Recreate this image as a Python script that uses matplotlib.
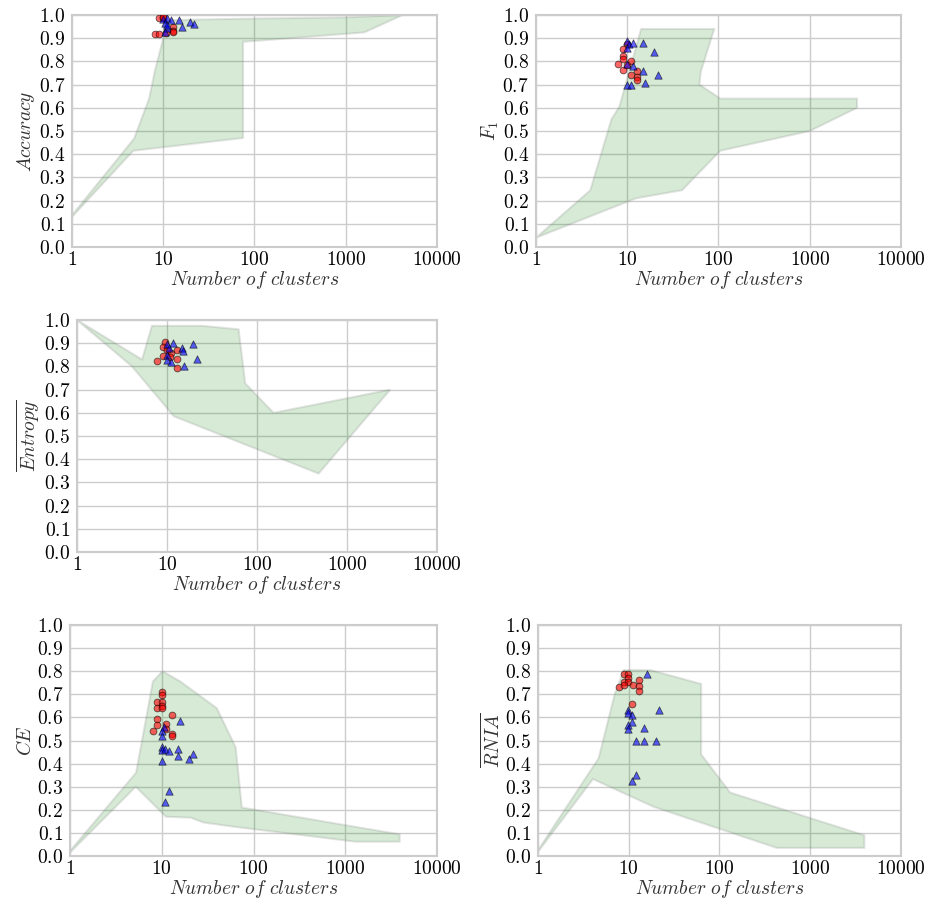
import matplotlib
matplotlib.use("Agg")
import matplotlib.pyplot as plt

plt.rcParams['mathtext.fontset'] = 'cm'
plt.rcParams['font.family'] = 'serif'
plt.rcParams['font.serif'] = ['cmr10', 'DejaVu Serif']
plt.rcParams['axes.unicode_minus'] = False

# ---- data ----
x_ticks = [1, 10, 100, 1000, 10000]
y_ticks = [0.0, 0.1, 0.2, 0.3, 0.4, 0.5, 0.6, 0.7, 0.8, 0.9, 1.0]

# Accuracy
acc_region_x = [1, 4.8, 7, 8.1, 10, 10.5, 100, 1000, 4200, 1600, 100, 75, 75, 4.7, 1]
acc_region_y = [0.137, 0.468, 0.64, 0.76, 0.90, 0.978, 0.985, 0.99, 1.0, 0.925, 0.888, 0.885, 0.47, 0.415, 0.13]
acc_red_x = [9.0, 9.9, 12.9, 12.9, 8.1, 9.0, 10.7, 12.9, 10.0]
acc_red_y = [0.988, 0.988, 0.95, 0.931, 0.918, 0.92, 0.922, 0.925, 0.99]
acc_blue_x = [10.0, 10.9, 12.1, 15.0, 19.6, 21.7, 15.9, 10.9, 10.5, 11.0, 10.4]
acc_blue_y = [0.985, 0.986, 0.978, 0.978, 0.971, 0.961, 0.95, 0.943, 0.965, 0.955, 0.928]

# F1
f1_region_x = [1, 3.94, 6.7, 8.2, 14.2, 90, 64, 62, 105, 3300, 3300, 1000, 105, 40, 12.5, 1]
f1_region_y = [0.04, 0.245, 0.55, 0.605, 0.94, 0.94, 0.755, 0.70, 0.64, 0.64, 0.60, 0.50, 0.415, 0.245, 0.21, 0.04]
f1_red_x = [10.0, 8.9, 8.9, 8.9, 8.0, 10.9, 8.9, 12.9, 10.9, 12.9, 12.9, 9.9]
f1_red_y = [0.875, 0.855, 0.825, 0.81, 0.79, 0.80, 0.765, 0.76, 0.74, 0.735, 0.72, 0.785]
f1_blue_x = [9.9, 10.5, 11.6, 14.8, 19.6, 9.9, 11.6, 15.0, 21.8, 15.6, 9.9, 10.9, 10.0]
f1_blue_y = [0.89, 0.875, 0.88, 0.88, 0.84, 0.79, 0.78, 0.76, 0.74, 0.705, 0.70, 0.70, 0.86]

# Entropy
ent_region_x = [1, 5.28, 6.8, 24.5, 62.5, 74, 153, 3025, 484, 11.9, 4.08, 1]
ent_region_y = [1.0, 0.83, 0.975, 0.975, 0.96, 0.727, 0.60, 0.70, 0.338, 0.585, 0.80, 1.0]
ent_red_x = [9.5, 8.95, 12.8, 11.1, 8.95, 10.8, 7.8, 12.8, 12.8, 10.0]
ent_red_y = [0.905, 0.885, 0.87, 0.856, 0.845, 0.839, 0.825, 0.83, 0.795, 0.87]
ent_blue_x = [9.9, 11.7, 14.5, 19.6, 14.9, 9.9, 9.9, 11.0, 21.3, 15.6, 10.5]
ent_blue_y = [0.895, 0.90, 0.88, 0.895, 0.865, 0.85, 0.826, 0.82, 0.83, 0.80, 0.88]

# CE
ce_region_x = [1, 5.25, 8.0, 10.2, 15.9, 39.8, 64, 74.6, 3920, 3920, 1290, 60.4, 28.5, 20.7, 11.1, 5.2, 1]
ce_region_y = [0.022, 0.361, 0.756, 0.80, 0.756, 0.64, 0.47, 0.21, 0.094, 0.062, 0.062, 0.127, 0.145, 0.166, 0.17, 0.30, 0.015]
ce_red_x = [10.0, 10.0, 8.95, 10.0, 10.0, 8.95, 10.0, 12.8, 8.95, 8.95, 11.0, 11.0, 7.95, 12.8, 12.8]
ce_red_y = [0.708, 0.697, 0.665, 0.665, 0.65, 0.64, 0.64, 0.61, 0.593, 0.567, 0.571, 0.549, 0.542, 0.528, 0.518]
ce_blue_x = [15.8, 10.6, 10.0, 10.0, 10.0, 10.0, 10.8, 12.0, 14.9, 14.9, 21.7, 19.9, 10.0, 12.0, 10.8]
ce_blue_y = [0.585, 0.557, 0.542, 0.518, 0.474, 0.46, 0.462, 0.455, 0.462, 0.433, 0.441, 0.419, 0.412, 0.282, 0.234]

# RNIA
rnia_region_x = [1, 4.65, 7.0, 8.8, 17.3, 62.8, 62.8, 131, 3950, 3950, 428, 18.8, 4.03, 1]
rnia_region_y = [0.025, 0.423, 0.70, 0.805, 0.805, 0.745, 0.44, 0.275, 0.09, 0.035, 0.035, 0.213, 0.333, 0.018]
rnia_red_x = [8.93, 9.87, 9.87, 8.93, 9.87, 7.86, 8.93, 11.0, 12.9, 12.9, 12.9, 10.8]
rnia_red_y = [0.786, 0.79, 0.771, 0.752, 0.752, 0.732, 0.742, 0.742, 0.764, 0.738, 0.713, 0.658]
rnia_blue_x = [15.7, 9.87, 9.87, 10.8, 21.6, 10.9, 9.87, 9.87, 14.7, 11.9, 14.7, 19.8, 11.9, 10.9]
rnia_blue_y = [0.786, 0.633, 0.62, 0.612, 0.633, 0.578, 0.568, 0.55, 0.554, 0.499, 0.499, 0.496, 0.351, 0.326]

panels = [
    (acc_region_x, acc_region_y, acc_red_x, acc_red_y, acc_blue_x, acc_blue_y, r'$Accuracy$'),
    (f1_region_x, f1_region_y, f1_red_x, f1_red_y, f1_blue_x, f1_blue_y, r'$F_1$'),
    (ent_region_x, ent_region_y, ent_red_x, ent_red_y, ent_blue_x, ent_blue_y, r'$\overline{Entropy}$'),
    (ce_region_x, ce_region_y, ce_red_x, ce_red_y, ce_blue_x, ce_blue_y, r'$CE$'),
    (rnia_region_x, rnia_region_y, rnia_red_x, rnia_red_y, rnia_blue_x, rnia_blue_y, r'$\overline{RNIA}$'),
]

# axes positions in figure fractions (left, bottom, width, height)
positions = [
    [0.0774, 0.727, 0.3925, 0.2564],
    [0.5763, 0.727, 0.3925, 0.2564],
    [0.0828, 0.390, 0.3871, 0.2564],
    [0.0753, 0.0541, 0.3946, 0.2553],
    [0.5785, 0.0541, 0.3903, 0.2553],
]

fig = plt.figure(figsize=(9.3, 9.05), dpi=100)

for pos, (rx, ry, redx, redy, bx, by, ylab) in zip(positions, panels):
    ax = fig.add_axes(pos)
    ax.set_xscale('log')
    ax.fill(rx, ry, facecolor=(0.0, 0.5, 0.0, 0.16), edgecolor=(0.5, 0.5, 0.5, 0.2),
            linewidth=1.5, zorder=1)
    ax.scatter(redx, redy, s=24, c='red', marker='o', alpha=0.6,
               edgecolors='black', linewidths=0.6, zorder=3)
    ax.scatter(bx, by, s=28, c='blue', marker='^', alpha=0.6,
               edgecolors='black', linewidths=0.6, zorder=3)
    ax.set_xlim(1, 10000)
    ax.set_ylim(0, 1.0)
    ax.set_xticks(x_ticks)
    ax.set_xticklabels([f'${t}$' for t in x_ticks])
    ax.minorticks_off()
    ax.set_yticks(y_ticks)
    ax.set_yticklabels([f'${t:.1f}$' for t in y_ticks])
    ax.tick_params(axis='both', length=0, labelsize=14, colors='black')
    ax.tick_params(axis='x', pad=3)
    ax.tick_params(axis='y', pad=5)
    ax.grid(True, color='#cccccc', linewidth=1.0, zorder=0)
    ax.set_axisbelow(True)
    for sp in ax.spines.values():
        sp.set_color('#cccccc')
        sp.set_linewidth(1.5)
    ax.set_xlabel(r'$Number\ of\ clusters$', fontsize=14, color='#333333', labelpad=0)
    ax.set_ylabel(ylab, fontsize=14, color='#333333', labelpad=1)

fig.savefig('out.png', dpi=100)
plt.close(fig)
